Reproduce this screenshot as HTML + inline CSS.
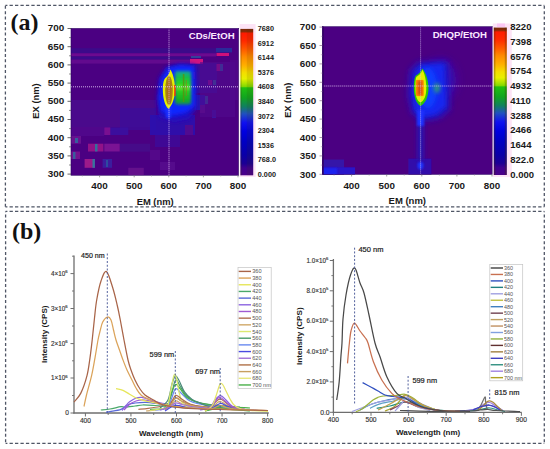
<!DOCTYPE html>
<html><head><meta charset="utf-8"><title>Figure</title>
<style>
html,body{margin:0;padding:0;background:#fff;width:550px;height:449px;overflow:hidden;}
svg{display:block;}
text{font-family:"Liberation Sans",sans-serif;}
.serif{font-family:"Liberation Serif",serif;}
</style></head><body>
<svg width="550" height="449" viewBox="0 0 550 449">
<defs>
<filter id="b1" x="-50%" y="-50%" width="200%" height="200%"><feGaussianBlur stdDeviation="1"/></filter>
<filter id="b15" x="-50%" y="-50%" width="200%" height="200%"><feGaussianBlur stdDeviation="1.5"/></filter>
<filter id="b2" x="-50%" y="-50%" width="200%" height="200%"><feGaussianBlur stdDeviation="2"/></filter>
<filter id="b3" x="-50%" y="-50%" width="200%" height="200%"><feGaussianBlur stdDeviation="3"/></filter>
<filter id="b5" x="-50%" y="-50%" width="200%" height="200%"><feGaussianBlur stdDeviation="5"/></filter>
<filter id="bh" x="-50%" y="-50%" width="200%" height="200%"><feGaussianBlur stdDeviation="0.6"/></filter>
<linearGradient id="cb" x1="0" y1="0" x2="0" y2="1">
<stop offset="0" stop-color="#7a2a08"/>
<stop offset="0.018" stop-color="#8a2a06"/>
<stop offset="0.03" stop-color="#ff1a00"/>
<stop offset="0.08" stop-color="#ff2800"/>
<stop offset="0.14" stop-color="#ff5a00"/>
<stop offset="0.19" stop-color="#ff8a00"/>
<stop offset="0.25" stop-color="#ffb000"/>
<stop offset="0.30" stop-color="#f4de00"/>
<stop offset="0.34" stop-color="#e8f000"/>
<stop offset="0.375" stop-color="#a8e200"/>
<stop offset="0.395" stop-color="#80d800"/>
<stop offset="0.402" stop-color="#20c010"/>
<stop offset="0.47" stop-color="#10a420"/>
<stop offset="0.53" stop-color="#108060"/>
<stop offset="0.58" stop-color="#2050c0"/>
<stop offset="0.64" stop-color="#1010f0"/>
<stop offset="0.70" stop-color="#0000e0"/>
<stop offset="0.77" stop-color="#0000c4"/>
<stop offset="0.86" stop-color="#0a00a8"/>
<stop offset="0.92" stop-color="#1c0094"/>
<stop offset="0.95" stop-color="#400090"/>
<stop offset="1" stop-color="#4a0088"/>
</linearGradient>
<linearGradient id="gG" x1="0" y1="0" x2="0" y2="1">
<stop offset="0" stop-color="#10a0a0"/>
<stop offset="0.2" stop-color="#18c040"/>
<stop offset="0.42" stop-color="#28d820"/>
<stop offset="0.5" stop-color="#70e030"/>
<stop offset="0.58" stop-color="#28d020"/>
<stop offset="0.85" stop-color="#18b020"/>
<stop offset="1" stop-color="#109050"/>
</linearGradient>
<clipPath id="cp1"><rect x="71" y="28.3" width="167.7" height="147"/></clipPath>
<clipPath id="cp2"><rect x="322.3" y="26.6" width="170" height="148"/></clipPath>
</defs>
<rect x="0" y="0" width="550" height="449" fill="#fff"/>

<line x1="5.4" y1="5.3" x2="544.3" y2="5.3" stroke="#4f5666" stroke-width="1.3" stroke-dasharray="3.3,2.15" fill="none" stroke-dashoffset="1.3"/>
<line x1="5.4" y1="206.9" x2="544.3" y2="206.9" stroke="#4f5666" stroke-width="1.3" stroke-dasharray="3.3,2.15" fill="none" stroke-dashoffset="1.3"/>
<line x1="5.4" y1="5.3" x2="5.4" y2="206.9" stroke="#4f5666" stroke-width="1.3" stroke-dasharray="3.0,2.35" fill="none" stroke-dashoffset="4.8"/>
<line x1="544.3" y1="5.3" x2="544.3" y2="206.9" stroke="#4f5666" stroke-width="1.3" stroke-dasharray="3.0,2.35" fill="none" stroke-dashoffset="4.8"/>
<line x1="5.6" y1="211.4" x2="544.3" y2="211.4" stroke="#4f5666" stroke-width="1.3" stroke-dasharray="3.3,2.15" fill="none" stroke-dashoffset="1.5"/>
<line x1="5.6" y1="443.3" x2="544.3" y2="443.3" stroke="#4f5666" stroke-width="1.3" stroke-dasharray="3.3,2.15" fill="none" stroke-dashoffset="1.5"/>
<line x1="5.6" y1="211.4" x2="5.6" y2="443.3" stroke="#4f5666" stroke-width="1.3" stroke-dasharray="3.0,2.35" fill="none" stroke-dashoffset="2.25"/>
<line x1="544.3" y1="211.4" x2="544.3" y2="443.3" stroke="#4f5666" stroke-width="1.3" stroke-dasharray="3.0,2.35" fill="none" stroke-dashoffset="2.25"/>
<text x="10.4" y="30.1" class="serif" font-size="24" font-weight="bold" fill="#111">(a)</text>
<text x="12" y="239.3" class="serif" font-size="24" font-weight="bold" fill="#111">(b)</text>
<g clip-path="url(#cp1)">
<rect x="71" y="28.3" width="167.7" height="147" fill="#4b0082"/>
<rect x="71" y="48.2" width="145" height="5.1" fill="#3c0a8a"/>
<rect x="71" y="53.3" width="145" height="3.1" fill="#6c0a90"/>
<rect x="71" y="56.4" width="119" height="3.2" fill="#3c0a8a"/>
<rect x="71" y="59.6" width="119" height="4" fill="#620a8e"/>
<rect x="193" y="63" width="24" height="30" fill="#3810a0" opacity="0.8"/>
<rect x="216" y="48" width="16" height="4.4" fill="#2a2a9a" opacity="1"/>
<rect x="216.5" y="53" width="12.5" height="3" fill="#d0107a" opacity="1"/>
<rect x="191" y="56" width="10" height="2" fill="#2a50a0" opacity="0.8"/>
<rect x="190" y="59" width="13" height="4.7" fill="#d01480" opacity="1"/>
<rect x="216.5" y="64" width="3.5" height="7" fill="#b01080" opacity="1"/>
<rect x="220" y="64" width="3" height="7" fill="#2a60a0" opacity="1"/>
<rect x="192.5" y="72" width="2.5" height="7" fill="#a01090" opacity="1"/>
<rect x="208" y="80" width="4" height="5" fill="#a01090" opacity="0.9"/>
<rect x="213" y="80" width="3" height="5" fill="#2a70a0" opacity="0.9"/>
<rect x="205" y="96" width="3" height="8" fill="#2a60a0" opacity="0.9"/>
<rect x="195" y="95" width="10" height="15" fill="#2020c0" opacity="0.7"/>
<rect x="200" y="105" width="5" height="8" fill="#6a108c" opacity="0.8"/>
<rect x="212" y="110" width="4" height="8" fill="#3a18a8" opacity="0.8"/>
<rect x="230" y="60" width="8" height="40" fill="#520a8e" opacity="0.6"/>
<rect x="71" y="100" width="85" height="27" fill="#4a0a8c" opacity="1"/>
<rect x="120" y="108" width="36" height="22" fill="#3c0c98" opacity="0.8"/>
<rect x="104.3" y="127.4" width="24" height="7.6" fill="#3a10a0" opacity="0.9"/>
<rect x="104.3" y="127.4" width="6" height="7.6" fill="#8a108e" opacity="0.8"/>
<rect x="71" y="136" width="10" height="7.7" fill="#6a1490" opacity="0.9"/>
<rect x="75" y="138" width="3" height="5" fill="#2a70a0" opacity="0.8"/>
<rect x="88" y="143.7" width="15.4" height="7.8" fill="#a8188a" opacity="0.75"/>
<rect x="95" y="144" width="2.5" height="7.5" fill="#2a78a0" opacity="0.9"/>
<rect x="104.3" y="143.7" width="15.4" height="7.8" fill="#8a1a9a" opacity="0.75"/>
<rect x="71" y="151.5" width="9" height="7.5" fill="#7a1490" opacity="0.9"/>
<rect x="73" y="152" width="2.5" height="7" fill="#2a70a0" opacity="0.8"/>
<rect x="84.6" y="159" width="10.3" height="8.8" fill="#b0208c" opacity="0.8"/>
<rect x="92.5" y="159" width="2.4" height="8.8" fill="#2a80a0" opacity="0.9"/>
<rect x="102.6" y="159" width="9.4" height="8.8" fill="#3a20a0" opacity="0.9"/>
<rect x="106" y="160" width="2" height="7" fill="#2a60a0" opacity="0.7"/>
<rect x="128.3" y="167.8" width="15.5" height="7.5" fill="#6a148e" opacity="0.8"/>
<rect x="71" y="127" width="33" height="9" fill="#520a8e" opacity="0.7"/>
<rect x="120" y="143.7" width="30" height="8" fill="#44108c" opacity="0.7"/>
<rect x="150" y="115" width="45" height="20" fill="#2a10b0" opacity="0.85"/>
<rect x="155" y="135" width="25" height="12" fill="#3a0c9c" opacity="0.7"/>
<rect x="185" y="125" width="8" height="10" fill="#5a0a8a" opacity="0.8"/>
<rect x="150" y="150" width="10" height="10" fill="#560a8c" opacity="0.8"/>
<rect x="160" y="162" width="15" height="8" fill="#5a1090" opacity="0.7"/>
<rect x="200" y="62" width="35" height="55" fill="#500a8e" opacity="0.6"/>
<path d="M159,78 L166,67 L180,64 L195,65 L196,110 L189,119 L174,122 L159,117 L157,100 Z" fill="#2410c0" filter="url(#b2)"/>
<path d="M161,80 L168,68 L180,65 L194,66 L195,106 L186,113 L172,116 L161,111 L159,98 Z" fill="#0a28ff" filter="url(#b2)"/>
<rect x="166" y="106" width="5" height="12" fill="#1a30ff" filter="url(#b1)"/>
<rect x="175" y="71" width="16" height="33.5" rx="2" fill="url(#gG)" filter="url(#b15)"/>
<rect x="182.8" y="74" width="1.6" height="28" fill="#5a9010" opacity="0.8"/>
<rect x="185.8" y="80" width="0.8" height="16" fill="#b06020" opacity="0.7"/>
<path d="M170.4,69.5 C172.6,73 175,80 175,89 C175,98 172,106 168.4,108.8 C165,106 162.8,98 162.8,89 C162.8,82 164.3,78.5 166,77.4 C168,76 169.6,73 170.4,69.5 Z" fill="#e6f000" filter="url(#bh)"/>
<ellipse cx="169" cy="90.5" rx="3.8" ry="14.5" fill="#a88018" filter="url(#bh)"/>
<ellipse cx="169" cy="90" rx="1.6" ry="11" fill="#b05a18" opacity="0.6"/>
<rect x="174.2" y="85" width="1.4" height="11" fill="#ff3000"/>
<line x1="169" y1="28.3" x2="169" y2="175.3" stroke="#f0d8ff" stroke-width="0.9" stroke-dasharray="1,1" opacity="0.9"/>
<line x1="71" y1="86.8" x2="238.7" y2="86.8" stroke="#f0d8ff" stroke-width="0.9" stroke-dasharray="1,1" opacity="0.9"/>
</g>
<rect x="71" y="28.3" width="167.7" height="147" fill="none" stroke="#2a0060" stroke-width="0.6"/>
<text x="234.6" y="39" text-anchor="end" font-size="9.6" font-weight="bold" fill="#fbe8ff">CDs/EtOH</text>
<rect x="239.6" y="24" width="16" height="153" fill="#fde4f6"/>
<rect x="240.4" y="28.9" width="12.8" height="146.4" fill="url(#cb)"/>
<rect x="246.8" y="28.9" width="6.4" height="146.4" fill="#403000" opacity="0.12"/>
<rect x="240.4" y="28.9" width="1.4" height="146.4" fill="#403000" opacity="0.2"/>
<text x="257.8" y="31.1" font-size="7.25" font-weight="bold" fill="#1a1a1a">7680</text>
<text x="257.8" y="45.67" font-size="7.25" font-weight="bold" fill="#1a1a1a">6912</text>
<text x="257.8" y="60.24" font-size="7.25" font-weight="bold" fill="#1a1a1a">6144</text>
<text x="257.8" y="74.81" font-size="7.25" font-weight="bold" fill="#1a1a1a">5376</text>
<text x="257.8" y="89.38" font-size="7.25" font-weight="bold" fill="#1a1a1a">4608</text>
<text x="257.8" y="103.95" font-size="7.25" font-weight="bold" fill="#1a1a1a">3840</text>
<text x="257.8" y="118.52" font-size="7.25" font-weight="bold" fill="#1a1a1a">3072</text>
<text x="257.8" y="133.09" font-size="7.25" font-weight="bold" fill="#1a1a1a">2304</text>
<text x="257.8" y="147.66" font-size="7.25" font-weight="bold" fill="#1a1a1a">1536</text>
<text x="257.8" y="162.23" font-size="7.25" font-weight="bold" fill="#1a1a1a">768.0</text>
<text x="257.8" y="176.8" font-size="7.25" font-weight="bold" fill="#1a1a1a">0.000</text>
<line x1="67.5" y1="28.5" x2="71" y2="28.5" stroke="#444" stroke-width="0.8"/>
<text x="64.3" y="31.4" text-anchor="end" font-size="9.9" font-weight="bold" fill="#1a1a1a">700</text>
<line x1="67.5" y1="46.7" x2="71" y2="46.7" stroke="#444" stroke-width="0.8"/>
<text x="64.3" y="49.6" text-anchor="end" font-size="9.9" font-weight="bold" fill="#1a1a1a">650</text>
<line x1="67.5" y1="64.9" x2="71" y2="64.9" stroke="#444" stroke-width="0.8"/>
<text x="64.3" y="67.8" text-anchor="end" font-size="9.9" font-weight="bold" fill="#1a1a1a">600</text>
<line x1="67.5" y1="83.1" x2="71" y2="83.1" stroke="#444" stroke-width="0.8"/>
<text x="64.3" y="86" text-anchor="end" font-size="9.9" font-weight="bold" fill="#1a1a1a">550</text>
<line x1="67.5" y1="101.3" x2="71" y2="101.3" stroke="#444" stroke-width="0.8"/>
<text x="64.3" y="104.2" text-anchor="end" font-size="9.9" font-weight="bold" fill="#1a1a1a">500</text>
<line x1="67.5" y1="119.5" x2="71" y2="119.5" stroke="#444" stroke-width="0.8"/>
<text x="64.3" y="122.4" text-anchor="end" font-size="9.9" font-weight="bold" fill="#1a1a1a">450</text>
<line x1="67.5" y1="137.7" x2="71" y2="137.7" stroke="#444" stroke-width="0.8"/>
<text x="64.3" y="140.6" text-anchor="end" font-size="9.9" font-weight="bold" fill="#1a1a1a">400</text>
<line x1="67.5" y1="155.9" x2="71" y2="155.9" stroke="#444" stroke-width="0.8"/>
<text x="64.3" y="158.8" text-anchor="end" font-size="9.9" font-weight="bold" fill="#1a1a1a">350</text>
<line x1="67.5" y1="174.1" x2="71" y2="174.1" stroke="#444" stroke-width="0.8"/>
<text x="64.3" y="177" text-anchor="end" font-size="9.9" font-weight="bold" fill="#1a1a1a">300</text>
<line x1="69" y1="37.6" x2="71" y2="37.6" stroke="#444" stroke-width="0.6"/>
<line x1="69" y1="55.8" x2="71" y2="55.8" stroke="#444" stroke-width="0.6"/>
<line x1="69" y1="74" x2="71" y2="74" stroke="#444" stroke-width="0.6"/>
<line x1="69" y1="92.2" x2="71" y2="92.2" stroke="#444" stroke-width="0.6"/>
<line x1="69" y1="110.4" x2="71" y2="110.4" stroke="#444" stroke-width="0.6"/>
<line x1="69" y1="128.6" x2="71" y2="128.6" stroke="#444" stroke-width="0.6"/>
<line x1="69" y1="146.8" x2="71" y2="146.8" stroke="#444" stroke-width="0.6"/>
<line x1="69" y1="165" x2="71" y2="165" stroke="#444" stroke-width="0.6"/>
<line x1="99.6" y1="175.3" x2="99.6" y2="177.3" stroke="#777" stroke-width="0.7"/>
<text x="99.6" y="188.9" text-anchor="middle" font-size="9.9" font-weight="bold" fill="#1a1a1a">400</text>
<line x1="134.2" y1="175.3" x2="134.2" y2="177.3" stroke="#777" stroke-width="0.7"/>
<text x="134.2" y="188.9" text-anchor="middle" font-size="9.9" font-weight="bold" fill="#1a1a1a">500</text>
<line x1="168.8" y1="175.3" x2="168.8" y2="177.3" stroke="#777" stroke-width="0.7"/>
<text x="168.8" y="188.9" text-anchor="middle" font-size="9.9" font-weight="bold" fill="#1a1a1a">600</text>
<line x1="203.4" y1="175.3" x2="203.4" y2="177.3" stroke="#777" stroke-width="0.7"/>
<text x="203.4" y="188.9" text-anchor="middle" font-size="9.9" font-weight="bold" fill="#1a1a1a">700</text>
<line x1="238" y1="175.3" x2="238" y2="177.3" stroke="#777" stroke-width="0.7"/>
<text x="238" y="188.9" text-anchor="middle" font-size="9.9" font-weight="bold" fill="#1a1a1a">800</text>
<line x1="82.3" y1="175.3" x2="82.3" y2="176.5" stroke="#999" stroke-width="0.6"/>
<line x1="116.9" y1="175.3" x2="116.9" y2="176.5" stroke="#999" stroke-width="0.6"/>
<line x1="151.5" y1="175.3" x2="151.5" y2="176.5" stroke="#999" stroke-width="0.6"/>
<line x1="186.1" y1="175.3" x2="186.1" y2="176.5" stroke="#999" stroke-width="0.6"/>
<line x1="220.7" y1="175.3" x2="220.7" y2="176.5" stroke="#999" stroke-width="0.6"/>
<text x="155.2" y="204.6" text-anchor="middle" font-size="9.4" font-weight="bold" fill="#1a1a1a">EM (nm)</text>
<text transform="translate(39,101) rotate(-90)" text-anchor="middle" font-size="9.4" font-weight="bold" fill="#1a1a1a">EX (nm)</text>
<g clip-path="url(#cp2)">
<rect x="322.3" y="26.6" width="170" height="147.9" fill="#4b0082"/>
<rect x="320" y="159.6" width="24" height="16" fill="#3612a8" filter="url(#bh)"/>
<rect x="320" y="167.3" width="35" height="8" fill="#2a14c8" filter="url(#bh)"/>
<rect x="320" y="168" width="17" height="7" fill="#1a20f0" filter="url(#b1)"/>
<rect x="408.4" y="158.6" width="23" height="17" fill="#3210aa" filter="url(#bh)"/>
<ellipse cx="420.5" cy="165.5" rx="3" ry="4" fill="#1a30ff" filter="url(#b1)"/>
<rect x="417" y="110" width="7" height="50" fill="#2c12b0" filter="url(#b2)"/>
<ellipse cx="440" cy="80" rx="16" ry="20" fill="#3a0cb0" filter="url(#b5)"/>
<path d="M410,70 L418,62 L448,61 L450,110 L440,118 L425,121 L412,114 L408,95 Z" fill="#2412c4" filter="url(#b3)"/>
<path d="M416,72 L422,65 L444,64 L446,106 L436,114 L424,117 L415,110 L413,92 Z" fill="#1228f0" filter="url(#b2)"/>
<ellipse cx="428" cy="88" rx="9" ry="20" fill="#0a40ff" filter="url(#b2)"/>
<rect x="417" y="110" width="7" height="16" fill="#1a30ff" filter="url(#b1)"/>
<ellipse cx="437" cy="88" rx="3" ry="5" fill="#30a070" filter="url(#b2)"/>
<path d="M422.3,68.5 C425.5,72 428.5,80 428.5,88 C428.5,97 425,104 420.5,106 C416.5,104 413.8,97 413.8,88 C413.8,82 414.6,77 416,75.5 C418.5,74 421,72 422.3,68.5 Z" fill="#30c800" filter="url(#bh)"/>
<path d="M422.3,69.8 C424.5,73 426.3,80 426.3,88 C426.3,96 424,101 420.5,102.5 C417,101 415.4,96 415.4,88 C415.4,81 415.8,77.5 416.6,76.7 C419,75.5 421.3,73.5 422.3,69.8 Z" fill="#e4f000" filter="url(#bh)"/>
<rect x="415.9" y="80" width="7.8" height="15.9" rx="1" fill="#ff8800" filter="url(#bh)"/>
<rect x="418" y="81" width="4" height="14" fill="#d84810" filter="url(#b1)"/>
<line x1="420.6" y1="26.6" x2="420.6" y2="174.5" stroke="#e0c8f8" stroke-width="0.9" stroke-dasharray="1,1" opacity="0.75"/>
<line x1="322.3" y1="86" x2="492.3" y2="86" stroke="#f0d8ff" stroke-width="0.9" stroke-dasharray="1,1" opacity="0.9"/>
</g>
<rect x="322.3" y="26.6" width="170" height="148" fill="none" stroke="#2a0060" stroke-width="0.6"/>
<line x1="323" y1="26.6" x2="323" y2="174.5" stroke="#300060" stroke-width="1.4"/>
<text x="487" y="37.8" text-anchor="end" font-size="9.6" font-weight="bold" fill="#fbe8ff">DHQP/EtOH</text>
<rect x="492.8" y="23.5" width="19" height="153.5" fill="#fde4f6"/>
<rect x="493.8" y="27.6" width="13" height="147.4" fill="url(#cb)"/>
<rect x="493.8" y="27.6" width="1.6" height="147.4" fill="#403000" opacity="0.3"/>
<rect x="504.8" y="27.6" width="2" height="147.4" fill="#403000" opacity="0.3"/>
<rect x="497" y="23.5" width="8" height="3.5" fill="#fbc8f4"/>
<text x="510.3" y="30" font-size="9.5" font-weight="bold" fill="#1a1a1a">8220</text>
<text x="510.3" y="44.77" font-size="9.5" font-weight="bold" fill="#1a1a1a">7398</text>
<text x="510.3" y="59.54" font-size="9.5" font-weight="bold" fill="#1a1a1a">6576</text>
<text x="510.3" y="74.31" font-size="9.5" font-weight="bold" fill="#1a1a1a">5754</text>
<text x="510.3" y="89.08" font-size="9.5" font-weight="bold" fill="#1a1a1a">4932</text>
<text x="510.3" y="103.85" font-size="9.5" font-weight="bold" fill="#1a1a1a">4110</text>
<text x="510.3" y="118.62" font-size="9.5" font-weight="bold" fill="#1a1a1a">3288</text>
<text x="510.3" y="133.39" font-size="9.5" font-weight="bold" fill="#1a1a1a">2466</text>
<text x="510.3" y="148.16" font-size="9.5" font-weight="bold" fill="#1a1a1a">1644</text>
<text x="510.3" y="162.93" font-size="9.5" font-weight="bold" fill="#1a1a1a">822.0</text>
<text x="510.3" y="177.7" font-size="9.5" font-weight="bold" fill="#1a1a1a">0.000</text>
<line x1="319.5" y1="27.1" x2="322.3" y2="27.1" stroke="#8a6a8a" stroke-width="0.7"/>
<text x="316.2" y="30.4" text-anchor="end" font-size="9.8" font-weight="bold" fill="#1a1a1a">700</text>
<line x1="319.5" y1="45.5" x2="322.3" y2="45.5" stroke="#8a6a8a" stroke-width="0.7"/>
<text x="316.2" y="48.8" text-anchor="end" font-size="9.8" font-weight="bold" fill="#1a1a1a">650</text>
<line x1="319.5" y1="63.9" x2="322.3" y2="63.9" stroke="#8a6a8a" stroke-width="0.7"/>
<text x="316.2" y="67.2" text-anchor="end" font-size="9.8" font-weight="bold" fill="#1a1a1a">600</text>
<line x1="319.5" y1="82.3" x2="322.3" y2="82.3" stroke="#8a6a8a" stroke-width="0.7"/>
<text x="316.2" y="85.6" text-anchor="end" font-size="9.8" font-weight="bold" fill="#1a1a1a">550</text>
<line x1="319.5" y1="100.7" x2="322.3" y2="100.7" stroke="#8a6a8a" stroke-width="0.7"/>
<text x="316.2" y="104" text-anchor="end" font-size="9.8" font-weight="bold" fill="#1a1a1a">500</text>
<line x1="319.5" y1="119.1" x2="322.3" y2="119.1" stroke="#8a6a8a" stroke-width="0.7"/>
<text x="316.2" y="122.4" text-anchor="end" font-size="9.8" font-weight="bold" fill="#1a1a1a">450</text>
<line x1="319.5" y1="137.5" x2="322.3" y2="137.5" stroke="#8a6a8a" stroke-width="0.7"/>
<text x="316.2" y="140.8" text-anchor="end" font-size="9.8" font-weight="bold" fill="#1a1a1a">400</text>
<line x1="319.5" y1="155.9" x2="322.3" y2="155.9" stroke="#8a6a8a" stroke-width="0.7"/>
<text x="316.2" y="159.2" text-anchor="end" font-size="9.8" font-weight="bold" fill="#1a1a1a">350</text>
<line x1="319.5" y1="174.3" x2="322.3" y2="174.3" stroke="#8a6a8a" stroke-width="0.7"/>
<text x="316.2" y="177.6" text-anchor="end" font-size="9.8" font-weight="bold" fill="#1a1a1a">300</text>
<line x1="320.8" y1="36.3" x2="322.3" y2="36.3" stroke="#b09ab0" stroke-width="0.6"/>
<line x1="320.8" y1="54.7" x2="322.3" y2="54.7" stroke="#b09ab0" stroke-width="0.6"/>
<line x1="320.8" y1="73.1" x2="322.3" y2="73.1" stroke="#b09ab0" stroke-width="0.6"/>
<line x1="320.8" y1="91.5" x2="322.3" y2="91.5" stroke="#b09ab0" stroke-width="0.6"/>
<line x1="320.8" y1="109.9" x2="322.3" y2="109.9" stroke="#b09ab0" stroke-width="0.6"/>
<line x1="320.8" y1="128.3" x2="322.3" y2="128.3" stroke="#b09ab0" stroke-width="0.6"/>
<line x1="320.8" y1="146.7" x2="322.3" y2="146.7" stroke="#b09ab0" stroke-width="0.6"/>
<line x1="320.8" y1="165.1" x2="322.3" y2="165.1" stroke="#b09ab0" stroke-width="0.6"/>
<line x1="351.6" y1="174.5" x2="351.6" y2="176.5" stroke="#777" stroke-width="0.7"/>
<text x="351.6" y="188.9" text-anchor="middle" font-size="9.8" font-weight="bold" fill="#1a1a1a">400</text>
<line x1="386.7" y1="174.5" x2="386.7" y2="176.5" stroke="#777" stroke-width="0.7"/>
<text x="386.7" y="188.9" text-anchor="middle" font-size="9.8" font-weight="bold" fill="#1a1a1a">500</text>
<line x1="421.8" y1="174.5" x2="421.8" y2="176.5" stroke="#777" stroke-width="0.7"/>
<text x="421.8" y="188.9" text-anchor="middle" font-size="9.8" font-weight="bold" fill="#1a1a1a">600</text>
<line x1="456.9" y1="174.5" x2="456.9" y2="176.5" stroke="#777" stroke-width="0.7"/>
<text x="456.9" y="188.9" text-anchor="middle" font-size="9.8" font-weight="bold" fill="#1a1a1a">700</text>
<line x1="492" y1="174.5" x2="492" y2="176.5" stroke="#777" stroke-width="0.7"/>
<text x="492" y="188.9" text-anchor="middle" font-size="9.8" font-weight="bold" fill="#1a1a1a">800</text>
<line x1="334.05" y1="174.5" x2="334.05" y2="175.7" stroke="#999" stroke-width="0.6"/>
<line x1="369.15" y1="174.5" x2="369.15" y2="175.7" stroke="#999" stroke-width="0.6"/>
<line x1="404.25" y1="174.5" x2="404.25" y2="175.7" stroke="#999" stroke-width="0.6"/>
<line x1="439.35" y1="174.5" x2="439.35" y2="175.7" stroke="#999" stroke-width="0.6"/>
<line x1="474.45" y1="174.5" x2="474.45" y2="175.7" stroke="#999" stroke-width="0.6"/>
<text x="407.3" y="204" text-anchor="middle" font-size="9.5" font-weight="bold" fill="#1a1a1a">EM (nm)</text>
<text transform="translate(291.2,100.3) rotate(-90)" text-anchor="middle" font-size="9.3" font-weight="bold" fill="#1a1a1a">EX (nm)</text>
<line x1="74" y1="255.5" x2="74" y2="413.6" stroke="#6e6e6e" stroke-width="1.3"/>
<line x1="73.4" y1="413" x2="268.8" y2="413" stroke="#6e6e6e" stroke-width="1.3"/>
<line x1="70.5" y1="413" x2="74" y2="413" stroke="#6e6e6e" stroke-width="1"/>
<line x1="70.5" y1="378" x2="74" y2="378" stroke="#6e6e6e" stroke-width="1"/>
<line x1="70.5" y1="343.6" x2="74" y2="343.6" stroke="#6e6e6e" stroke-width="1"/>
<line x1="70.5" y1="308.5" x2="74" y2="308.5" stroke="#6e6e6e" stroke-width="1"/>
<line x1="70.5" y1="273.6" x2="74" y2="273.6" stroke="#6e6e6e" stroke-width="1"/>
<line x1="72" y1="395.5" x2="74" y2="395.5" stroke="#6e6e6e" stroke-width="0.9"/>
<line x1="72" y1="360.8" x2="74" y2="360.8" stroke="#6e6e6e" stroke-width="0.9"/>
<line x1="72" y1="326" x2="74" y2="326" stroke="#6e6e6e" stroke-width="0.9"/>
<line x1="72" y1="291" x2="74" y2="291" stroke="#6e6e6e" stroke-width="0.9"/>
<line x1="72" y1="256.2" x2="74" y2="256.2" stroke="#6e6e6e" stroke-width="0.9"/>
<text x="69" y="415.3" text-anchor="end" font-size="6.6" fill="#333" stroke="#333" stroke-width="0.15">0</text>
<text x="67.6" y="380.2" text-anchor="end" font-size="6.3" fill="#333" stroke="#333" stroke-width="0.15">1×10<tspan font-size="4.2" dy="-2.6">6</tspan></text>
<text x="67.6" y="345.8" text-anchor="end" font-size="6.3" fill="#333" stroke="#333" stroke-width="0.15">2×10<tspan font-size="4.2" dy="-2.6">6</tspan></text>
<text x="67.6" y="310.7" text-anchor="end" font-size="6.3" fill="#333" stroke="#333" stroke-width="0.15">3×10<tspan font-size="4.2" dy="-2.6">6</tspan></text>
<text x="67.6" y="275.8" text-anchor="end" font-size="6.3" fill="#333" stroke="#333" stroke-width="0.15">4×10<tspan font-size="4.2" dy="-2.6">6</tspan></text>
<line x1="85.4" y1="413" x2="85.4" y2="416.5" stroke="#6e6e6e" stroke-width="1"/>
<text x="85.4" y="423.4" text-anchor="middle" font-size="6.6" fill="#333" stroke="#333" stroke-width="0.15">400</text>
<line x1="130.95" y1="413" x2="130.95" y2="416.5" stroke="#6e6e6e" stroke-width="1"/>
<text x="130.95" y="423.4" text-anchor="middle" font-size="6.6" fill="#333" stroke="#333" stroke-width="0.15">500</text>
<line x1="176.5" y1="413" x2="176.5" y2="416.5" stroke="#6e6e6e" stroke-width="1"/>
<text x="176.5" y="423.4" text-anchor="middle" font-size="6.6" fill="#333" stroke="#333" stroke-width="0.15">600</text>
<line x1="222.05" y1="413" x2="222.05" y2="416.5" stroke="#6e6e6e" stroke-width="1"/>
<text x="222.05" y="423.4" text-anchor="middle" font-size="6.6" fill="#333" stroke="#333" stroke-width="0.15">700</text>
<line x1="267.6" y1="413" x2="267.6" y2="416.5" stroke="#6e6e6e" stroke-width="1"/>
<text x="267.6" y="423.4" text-anchor="middle" font-size="6.6" fill="#333" stroke="#333" stroke-width="0.15">800</text>
<line x1="108.18" y1="413" x2="108.18" y2="415" stroke="#6e6e6e" stroke-width="0.9"/>
<line x1="153.73" y1="413" x2="153.73" y2="415" stroke="#6e6e6e" stroke-width="0.9"/>
<line x1="199.28" y1="413" x2="199.28" y2="415" stroke="#6e6e6e" stroke-width="0.9"/>
<line x1="244.83" y1="413" x2="244.83" y2="415" stroke="#6e6e6e" stroke-width="0.9"/>
<text x="171" y="435.9" text-anchor="middle" font-size="8" font-weight="bold" fill="#1a1a1a">Wavelength (nm)</text>
<text transform="translate(47.3,334.3) rotate(-90)" text-anchor="middle" font-size="8.1" font-weight="bold" fill="#1a1a1a">Intensity (CPS)</text>
<path d="M100.8,410C102.33,409.83 106.63,409.55 110,409C113.37,408.45 118.5,407 121,406.7C123.5,406.4 122.67,407.32 125,407.2C127.33,407.08 132.05,406.37 135,406C137.95,405.63 139.37,405.08 142.7,405C146.03,404.92 150.45,405.25 155,405.5C159.55,405.75 162.5,406 170,406.5C177.5,407 190,408 200,408.5C210,409 225,409.33 230,409.5" fill="none" stroke="#4aa86a" stroke-width="1.25" stroke-linejoin="round"/>
<path d="M106,412.3C106.67,412.18 107.5,412.08 110,411.6C112.5,411.12 117.92,410.58 121,409.4C124.08,408.22 126.17,405.57 128.5,404.5C130.83,403.43 132.08,403.35 135,403C137.92,402.65 142.53,402.33 146,402.4C149.47,402.47 152.72,402.97 155.8,403.4C158.88,403.83 160.47,404.32 164.5,405C168.53,405.68 172.42,406.83 180,407.5C187.58,408.17 201.67,408.67 210,409C218.33,409.33 226.67,409.42 230,409.5" fill="none" stroke="#5a6ad8" stroke-width="1.25" stroke-linejoin="round"/>
<path d="M122,410.5C122.67,409.67 124.73,406.95 126,405.5C127.27,404.05 127.9,403.05 129.6,401.8C131.3,400.55 134.2,398.73 136.2,398C138.2,397.27 139.6,397.23 141.6,397.4C143.6,397.57 146.02,398.35 148.2,399C150.38,399.65 152.35,400.57 154.7,401.3C157.05,402.03 159.75,402.87 162.3,403.4C164.85,403.93 166.22,403.98 170,404.5C173.78,405.02 178.33,406 185,406.5C191.67,407 205.83,407.33 210,407.5" fill="none" stroke="#8c64e0" stroke-width="1.25" stroke-linejoin="round"/>
<path d="M124,410C125,409 128,405.5 130,404C132,402.5 134,401.67 136,401C138,400.33 139.83,400.03 142,400C144.17,399.97 146.67,400.38 149,400.8C151.33,401.22 153.17,401.8 156,402.5C158.83,403.2 161.17,404.17 166,405C170.83,405.83 177.67,407 185,407.5C192.33,408 205.83,407.92 210,408" fill="none" stroke="#a05ad2" stroke-width="1.25" stroke-linejoin="round"/>
<path d="M138.4,409.4C140.03,409.23 144.6,408.88 148.2,408.4C151.8,407.92 156.87,407.23 160,406.5C163.13,405.77 165,404.92 167,404C169,403.08 170.5,402 172,401C173.5,400 174.5,398.08 176,398C177.5,397.92 178.67,399.42 181,400.5C183.33,401.58 185.17,403.42 190,404.5C194.83,405.58 201.67,406.33 210,407C218.33,407.67 235,408.25 240,408.5" fill="none" stroke="#b07050" stroke-width="1.25" stroke-linejoin="round"/>
<path d="M146,411C147.5,410.83 151.83,410.5 155,410C158.17,409.5 162.33,408.83 165,408C167.67,407.17 169.17,406.17 171,405C172.83,403.83 174.17,401.25 176,401C177.83,400.75 178.83,402.58 182,403.5C185.17,404.42 187.83,405.67 195,406.5C202.17,407.33 220,408.17 225,408.5" fill="none" stroke="#d0a868" stroke-width="1.25" stroke-linejoin="round"/>
<path d="M116,388.7C117.17,388.98 120.73,389.48 123,390.4C125.27,391.32 127.4,392.93 129.6,394.2C131.8,395.47 134.02,397 136.2,398C138.38,399 140.4,399.53 142.7,400.2C145,400.87 147.45,401.45 150,402C152.55,402.55 155.17,403 158,403.5C160.83,404 163.67,404.5 167,405C170.33,405.5 172.5,406 178,406.5C183.5,407 196.33,407.75 200,408" fill="none" stroke="#e6e65a" stroke-width="1.25" stroke-linejoin="round"/>
<path d="M150,409.5C152.5,409.25 161.5,410.25 165,408C168.5,405.75 169.25,400.63 171,396C172.75,391.37 174,381.87 175.5,380.2C177,378.53 178.25,383.45 180,386C181.75,388.55 183.5,392.92 186,395.5C188.5,398.08 191,400 195,401.5C199,403 202.5,403.58 210,404.5C217.5,405.42 235,406.58 240,407" fill="none" stroke="#4a9a6a" stroke-width="1.25" stroke-linejoin="round"/>
<path d="M155,410C156.83,409.75 163.33,410.17 166,408.5C168.67,406.83 169.42,403.28 171,400C172.58,396.72 173.83,389.97 175.5,388.8C177.17,387.63 178.58,390.97 181,393C183.42,395.03 186,399 190,401C194,403 198.33,403.92 205,405C211.67,406.08 225.83,407.08 230,407.5" fill="none" stroke="#6a8af0" stroke-width="1.25" stroke-linejoin="round"/>
<path d="M152,409.5C154.33,409.17 162.83,410.08 166,407.5C169.17,404.92 169.42,397.83 171,394C172.58,390.17 174,385.42 175.5,384.5C177,383.58 178.08,386.33 180,388.5C181.92,390.67 183.67,395.08 187,397.5C190.33,399.92 194.5,401.58 200,403C205.5,404.42 211.67,405.17 220,406C228.33,406.83 245,407.67 250,408" fill="none" stroke="#4ab04a" stroke-width="1.25" stroke-linejoin="round"/>
<path d="M160,408C161.33,406.67 166,404 168,400C170,396 170.78,388 172,384C173.22,380 174.13,376.58 175.3,376C176.47,375.42 177.47,377.87 179,380.5C180.53,383.13 182.37,388.68 184.5,391.8C186.63,394.92 189.22,397.33 191.8,399.2C194.38,401.07 197.35,401.88 200,403C202.65,404.12 204.37,405.15 207.7,405.9C211.03,406.65 217.95,407.23 220,407.5" fill="none" stroke="#4a8a7a" stroke-width="1.25" stroke-linejoin="round"/>
<path d="M150,410.5C151.67,410.25 157.12,409.67 160,409C162.88,408.33 165.55,409.33 167.3,406.5C169.05,403.67 169.38,397.2 170.5,392C171.62,386.8 173,377.63 174,375.3C175,372.97 175.67,375.22 176.5,378C177.33,380.78 177.92,387.67 179,392C180.08,396.33 181.17,401.25 183,404C184.83,406.75 188.83,407.75 190,408.5" fill="none" stroke="#dce870" stroke-width="1.25" stroke-linejoin="round"/>
<path d="M165,409C165.83,408.33 168.25,407.25 170,405C171.75,402.75 173.67,396.58 175.5,395.5C177.33,394.42 178.58,397.08 181,398.5C183.42,399.92 186,402.5 190,404C194,405.5 198.33,406.67 205,407.5C211.67,408.33 225.83,408.75 230,409" fill="none" stroke="#b07048" stroke-width="1.25" stroke-linejoin="round"/>
<path d="M165,410C166,409.17 169.25,407 171,405C172.75,403 173.67,398.58 175.5,398C177.33,397.42 179.25,400.25 182,401.5C184.75,402.75 187.33,404.42 192,405.5C196.67,406.58 207,407.58 210,408" fill="none" stroke="#c8a060" stroke-width="1.25" stroke-linejoin="round"/>
<path d="M160,410C161.67,409.42 167.42,407.7 170,406.5C172.58,405.3 173.5,403.13 175.5,402.8C177.5,402.47 178.75,403.8 182,404.5C185.25,405.2 189.5,406.33 195,407C200.5,407.67 211.67,408.25 215,408.5" fill="none" stroke="#a070d8" stroke-width="1.25" stroke-linejoin="round"/>
<path d="M165,411C166.75,410.08 171.33,406 175.5,405.5C179.67,405 183.42,407.42 190,408C196.58,408.58 210.83,408.83 215,409" fill="none" stroke="#4a4ae0" stroke-width="1.25" stroke-linejoin="round"/>
<path d="M200,410C201.67,409.58 207.5,409.17 210,407.5C212.5,405.83 213.25,401.97 215,400C216.75,398.03 218.67,395.7 220.5,395.7C222.33,395.7 224.08,398.28 226,400C227.92,401.72 229.67,404.5 232,406C234.33,407.5 235.33,408.25 240,409C244.67,409.75 256.67,410.25 260,410.5" fill="none" stroke="#8c64e0" stroke-width="1.25" stroke-linejoin="round"/>
<path d="M205,410C206.17,409.33 210.17,407.42 212,406C213.83,404.58 214.58,402.67 216,401.5C217.42,400.33 219,398.92 220.5,399C222,399.08 223.08,400.67 225,402C226.92,403.33 228.67,405.75 232,407C235.33,408.25 242.83,409.08 245,409.5" fill="none" stroke="#b07050" stroke-width="1.25" stroke-linejoin="round"/>
<path d="M205,410.5C206.33,409.92 211,408.25 213,407C215,405.75 215.75,403.92 217,403C218.25,402.08 219.17,401.33 220.5,401.5C221.83,401.67 223.08,402.92 225,404C226.92,405.08 228.67,407 232,408C235.33,409 242.83,409.67 245,410" fill="none" stroke="#d0a868" stroke-width="1.25" stroke-linejoin="round"/>
<path d="M205,410C206.33,409.17 211,406.83 213,405C215,403.17 215.75,400.25 217,399C218.25,397.75 219.17,397.17 220.5,397.5C221.83,397.83 223.08,399.5 225,401C226.92,402.5 228.67,405.08 232,406.5C235.33,407.92 242.83,409 245,409.5" fill="none" stroke="#a05ad2" stroke-width="1.25" stroke-linejoin="round"/>
<path d="M207,410.5C208.17,409.92 211.75,408.17 214,407C216.25,405.83 218.5,403.75 220.5,403.5C222.5,403.25 223.58,404.58 226,405.5C228.42,406.42 231,408.17 235,409C239,409.83 247.5,410.25 250,410.5" fill="none" stroke="#4a4ae0" stroke-width="1.25" stroke-linejoin="round"/>
<path d="M205,411C206.5,410.5 211.42,408.92 214,408C216.58,407.08 218.33,405.58 220.5,405.5C222.67,405.42 223.75,406.75 227,407.5C230.25,408.25 237.83,409.58 240,410" fill="none" stroke="#c8a060" stroke-width="1.25" stroke-linejoin="round"/>
<path d="M205,411C206.5,410.67 211.42,409.58 214,409C216.58,408.42 217.83,407.42 220.5,407.5C223.17,407.58 225.08,408.92 230,409.5C234.92,410.08 246.67,410.75 250,411" fill="none" stroke="#4ab04a" stroke-width="1.25" stroke-linejoin="round"/>
<path d="M205,411C206.17,410.17 210.17,408.5 212,406C213.83,403.5 214.83,399.25 216,396C217.17,392.75 218.2,388.6 219,386.5C219.8,384.4 220.13,383.65 220.8,383.4C221.47,383.15 222.13,383.73 223,385C223.87,386.27 224.83,388.67 226,391C227.17,393.33 228.67,396.67 230,399C231.33,401.33 232.33,403.42 234,405C235.67,406.58 237.33,407.62 240,408.5C242.67,409.38 245.33,409.83 250,410.3C254.67,410.77 265,411.13 268,411.3" fill="none" stroke="#e4e468" stroke-width="1.25" stroke-linejoin="round"/>
<path d="M84,406.5C84.42,404.58 85.23,400.15 86.5,395C87.77,389.85 90.18,381.8 91.6,375.6C93.02,369.4 93.93,363.73 95,357.8C96.07,351.87 97.17,344.4 98,340C98.83,335.6 99.22,334.4 100,331.4C100.78,328.4 101.45,324.4 102.7,322C103.95,319.6 106.12,317.33 107.5,317C108.88,316.67 110,317.83 111,320C112,322.17 112.67,326.67 113.5,330C114.33,333.33 115,336.67 116,340C117,343.33 118.33,346.67 119.5,350C120.67,353.33 121.75,356.67 123,360C124.25,363.33 125.5,366.67 127,370C128.5,373.33 130.5,377 132,380C133.5,383 134.5,385.5 136,388C137.5,390.5 138.67,393 141,395C143.33,397 146.83,398.5 150,400C153.17,401.5 155.83,402.87 160,404C164.17,405.13 168.33,406.05 175,406.8C181.67,407.55 184.5,407.88 200,408.5C215.5,409.12 256.67,410.17 268,410.5" fill="none" stroke="#dba35a" stroke-width="1.25" stroke-linejoin="round"/>
<path d="M74,402C75.12,400.57 78.53,397.8 80.7,393.4C82.87,389 85.45,381.53 87,375.6C88.55,369.67 89.13,363.73 90,357.8C90.87,351.87 91.45,346.63 92.2,340C92.95,333.37 93.75,324.67 94.5,318C95.25,311.33 95.62,306.17 96.7,300C97.78,293.83 99.37,285.73 101,281C102.63,276.27 104.53,270.43 106.5,271.6C108.47,272.77 110.98,282.27 112.8,288C114.62,293.73 116.15,300.67 117.4,306C118.65,311.33 119.2,314.33 120.3,320C121.4,325.67 122.72,333.33 124,340C125.28,346.67 126.83,355 128,360C129.17,365 129.83,366.67 131,370C132.17,373.33 133.5,376.83 135,380C136.5,383.17 138.33,386.5 140,389C141.67,391.5 142.75,393.17 145,395C147.25,396.83 150.67,398.42 153.5,400C156.33,401.58 158.42,403.33 162,404.5C165.58,405.67 168.67,406.25 175,407C181.33,407.75 184.5,408.42 200,409C215.5,409.58 256.67,410.25 268,410.5" fill="none" stroke="#a86448" stroke-width="1.25" stroke-linejoin="round"/>
<line x1="107.3" y1="253.5" x2="107.3" y2="413" stroke="#4a5898" stroke-width="0.95" stroke-dasharray="2,1.75"/>
<line x1="175.3" y1="351" x2="175.3" y2="413" stroke="#4a5898" stroke-width="0.95" stroke-dasharray="2,1.75"/>
<line x1="220.2" y1="368" x2="220.2" y2="413" stroke="#4a5898" stroke-width="0.95" stroke-dasharray="2,1.75"/>
<text x="81" y="258.2" font-size="7.1" fill="#222" stroke="#222" stroke-width="0.2">450 nm</text>
<text x="149.6" y="356.7" font-size="7.4" fill="#222" stroke="#222" stroke-width="0.2">599 nm</text>
<text x="195.2" y="374.3" font-size="7.45" fill="#222" stroke="#222" stroke-width="0.2">697 nm</text>
<rect x="238" y="267.4" width="33.2" height="121" fill="#fff" stroke="#c4c4c4" stroke-width="0.7"/>
<line x1="238.7" y1="271.4" x2="251" y2="271.4" stroke="#a86448" stroke-width="1.4"/>
<text x="252.2" y="273.4" font-size="5.6" fill="#555">360</text>
<line x1="238.7" y1="278.08" x2="251" y2="278.08" stroke="#dba35a" stroke-width="1.4"/>
<text x="252.2" y="280.08" font-size="5.6" fill="#555">380</text>
<line x1="238.7" y1="284.76" x2="251" y2="284.76" stroke="#e6e65a" stroke-width="1.4"/>
<text x="252.2" y="286.76" font-size="5.6" fill="#555">400</text>
<line x1="238.7" y1="291.44" x2="251" y2="291.44" stroke="#4aa86a" stroke-width="1.4"/>
<text x="252.2" y="293.44" font-size="5.6" fill="#555">420</text>
<line x1="238.7" y1="298.12" x2="251" y2="298.12" stroke="#5a6ad8" stroke-width="1.4"/>
<text x="252.2" y="300.12" font-size="5.6" fill="#555">440</text>
<line x1="238.7" y1="304.8" x2="251" y2="304.8" stroke="#8c64e0" stroke-width="1.4"/>
<text x="252.2" y="306.8" font-size="5.6" fill="#555">460</text>
<line x1="238.7" y1="311.48" x2="251" y2="311.48" stroke="#a05ad2" stroke-width="1.4"/>
<text x="252.2" y="313.48" font-size="5.6" fill="#555">480</text>
<line x1="238.7" y1="318.16" x2="251" y2="318.16" stroke="#b07050" stroke-width="1.4"/>
<text x="252.2" y="320.16" font-size="5.6" fill="#555">500</text>
<line x1="238.7" y1="324.84" x2="251" y2="324.84" stroke="#d0a868" stroke-width="1.4"/>
<text x="252.2" y="326.84" font-size="5.6" fill="#555">520</text>
<line x1="238.7" y1="331.52" x2="251" y2="331.52" stroke="#dce870" stroke-width="1.4"/>
<text x="252.2" y="333.52" font-size="5.6" fill="#555">540</text>
<line x1="238.7" y1="338.2" x2="251" y2="338.2" stroke="#4a9a6a" stroke-width="1.4"/>
<text x="252.2" y="340.2" font-size="5.6" fill="#555">560</text>
<line x1="238.7" y1="344.88" x2="251" y2="344.88" stroke="#6a8af0" stroke-width="1.4"/>
<text x="252.2" y="346.88" font-size="5.6" fill="#555">580</text>
<line x1="238.7" y1="351.56" x2="251" y2="351.56" stroke="#4a4ae0" stroke-width="1.4"/>
<text x="252.2" y="353.56" font-size="5.6" fill="#555">600</text>
<line x1="238.7" y1="358.24" x2="251" y2="358.24" stroke="#a070d8" stroke-width="1.4"/>
<text x="252.2" y="360.24" font-size="5.6" fill="#555">620</text>
<line x1="238.7" y1="364.92" x2="251" y2="364.92" stroke="#b07048" stroke-width="1.4"/>
<text x="252.2" y="366.92" font-size="5.6" fill="#555">640</text>
<line x1="238.7" y1="371.6" x2="251" y2="371.6" stroke="#c8a060" stroke-width="1.4"/>
<text x="252.2" y="373.6" font-size="5.6" fill="#555">660</text>
<line x1="238.7" y1="378.28" x2="251" y2="378.28" stroke="#e8e880" stroke-width="1.4"/>
<text x="252.2" y="380.28" font-size="5.6" fill="#555">680</text>
<line x1="238.7" y1="384.96" x2="251" y2="384.96" stroke="#4ab04a" stroke-width="1.4"/>
<text x="252.2" y="386.96" font-size="5.6" fill="#555">700 nm</text>
<line x1="333.4" y1="259" x2="333.4" y2="412.9" stroke="#6e6e6e" stroke-width="1.3"/>
<line x1="332.8" y1="412.3" x2="521.6" y2="412.3" stroke="#6e6e6e" stroke-width="1.3"/>
<line x1="329.8" y1="412.3" x2="333.4" y2="412.3" stroke="#6e6e6e" stroke-width="1"/>
<text x="329.6" y="414.6" text-anchor="end" font-size="6.8" fill="#333" stroke="#333" stroke-width="0.15">0.0</text>
<line x1="329.8" y1="381.9" x2="333.4" y2="381.9" stroke="#6e6e6e" stroke-width="1"/>
<text x="328.4" y="384.1" text-anchor="end" font-size="6.3" fill="#333" stroke="#333" stroke-width="0.15">2.0×10<tspan font-size="4.2" dy="-2.6">5</tspan></text>
<line x1="329.8" y1="351.6" x2="333.4" y2="351.6" stroke="#6e6e6e" stroke-width="1"/>
<text x="328.4" y="353.8" text-anchor="end" font-size="6.3" fill="#333" stroke="#333" stroke-width="0.15">4.0×10<tspan font-size="4.2" dy="-2.6">5</tspan></text>
<line x1="329.8" y1="321.2" x2="333.4" y2="321.2" stroke="#6e6e6e" stroke-width="1"/>
<text x="328.4" y="323.4" text-anchor="end" font-size="6.3" fill="#333" stroke="#333" stroke-width="0.15">6.0×10<tspan font-size="4.2" dy="-2.6">5</tspan></text>
<line x1="329.8" y1="290.8" x2="333.4" y2="290.8" stroke="#6e6e6e" stroke-width="1"/>
<text x="328.4" y="293" text-anchor="end" font-size="6.3" fill="#333" stroke="#333" stroke-width="0.15">8.0×10<tspan font-size="4.2" dy="-2.6">5</tspan></text>
<line x1="329.8" y1="260.5" x2="333.4" y2="260.5" stroke="#6e6e6e" stroke-width="1"/>
<text x="328.4" y="262.7" text-anchor="end" font-size="6.3" fill="#333" stroke="#333" stroke-width="0.15">1.0×10<tspan font-size="4.2" dy="-2.6">6</tspan></text>
<line x1="331.4" y1="397.1" x2="333.4" y2="397.1" stroke="#6e6e6e" stroke-width="0.9"/>
<line x1="331.4" y1="366.7" x2="333.4" y2="366.7" stroke="#6e6e6e" stroke-width="0.9"/>
<line x1="331.4" y1="336.4" x2="333.4" y2="336.4" stroke="#6e6e6e" stroke-width="0.9"/>
<line x1="331.4" y1="306" x2="333.4" y2="306" stroke="#6e6e6e" stroke-width="0.9"/>
<line x1="331.4" y1="275.6" x2="333.4" y2="275.6" stroke="#6e6e6e" stroke-width="0.9"/>
<line x1="333.4" y1="412.3" x2="333.4" y2="415.8" stroke="#6e6e6e" stroke-width="1"/>
<text x="333.4" y="421.5" text-anchor="middle" font-size="6.7" fill="#333" stroke="#333" stroke-width="0.15">400</text>
<line x1="371" y1="412.3" x2="371" y2="415.8" stroke="#6e6e6e" stroke-width="1"/>
<text x="371" y="421.5" text-anchor="middle" font-size="6.7" fill="#333" stroke="#333" stroke-width="0.15">500</text>
<line x1="408.6" y1="412.3" x2="408.6" y2="415.8" stroke="#6e6e6e" stroke-width="1"/>
<text x="408.6" y="421.5" text-anchor="middle" font-size="6.7" fill="#333" stroke="#333" stroke-width="0.15">600</text>
<line x1="446.2" y1="412.3" x2="446.2" y2="415.8" stroke="#6e6e6e" stroke-width="1"/>
<text x="446.2" y="421.5" text-anchor="middle" font-size="6.7" fill="#333" stroke="#333" stroke-width="0.15">700</text>
<line x1="483.8" y1="412.3" x2="483.8" y2="415.8" stroke="#6e6e6e" stroke-width="1"/>
<text x="483.8" y="421.5" text-anchor="middle" font-size="6.7" fill="#333" stroke="#333" stroke-width="0.15">800</text>
<line x1="521.4" y1="412.3" x2="521.4" y2="415.8" stroke="#6e6e6e" stroke-width="1"/>
<text x="521.4" y="421.5" text-anchor="middle" font-size="6.7" fill="#333" stroke="#333" stroke-width="0.15">900</text>
<line x1="352.2" y1="412.3" x2="352.2" y2="414.3" stroke="#6e6e6e" stroke-width="0.9"/>
<line x1="389.8" y1="412.3" x2="389.8" y2="414.3" stroke="#6e6e6e" stroke-width="0.9"/>
<line x1="427.4" y1="412.3" x2="427.4" y2="414.3" stroke="#6e6e6e" stroke-width="0.9"/>
<line x1="465" y1="412.3" x2="465" y2="414.3" stroke="#6e6e6e" stroke-width="0.9"/>
<line x1="502.6" y1="412.3" x2="502.6" y2="414.3" stroke="#6e6e6e" stroke-width="0.9"/>
<text x="428.2" y="435" text-anchor="middle" font-size="8" font-weight="bold" fill="#1a1a1a">Wavelength (nm)</text>
<text transform="translate(302.2,336.2) rotate(-90)" text-anchor="middle" font-size="8.1" font-weight="bold" fill="#1a1a1a">Intensity (CPS)</text>
<path d="M376.7,408.4C378.92,408 386.12,406.9 390,406C393.88,405.1 397,403.67 400,403C403,402.33 405,401.67 408,402C411,402.33 414.33,403.83 418,405C421.67,406.17 425.5,408.08 430,409C434.5,409.92 442.5,410.25 445,410.5" fill="none" stroke="#209080" stroke-width="1.25" stroke-linejoin="round"/>
<path d="M370,408.4C371.4,407.72 374.5,405.53 378.4,404.3C382.3,403.07 389.47,401.88 393.4,401C397.33,400.12 399.57,399.25 402,399C404.43,398.75 405,398.5 408,399.5C411,400.5 415.5,403.33 420,405C424.5,406.67 432.5,408.75 435,409.5" fill="none" stroke="#60a0c8" stroke-width="1.25" stroke-linejoin="round"/>
<path d="M360,410C362,409 367.83,405.58 372,404C376.17,402.42 380.67,401.42 385,400.5C389.33,399.58 394.67,399 398,398.5C401.33,398 402.17,396.92 405,397.5C407.83,398.08 410.83,400.17 415,402C419.17,403.83 427.5,407.42 430,408.5" fill="none" stroke="#4080c0" stroke-width="1.25" stroke-linejoin="round"/>
<path d="M352,411.5C353.33,411 356.17,409.92 360,408.5C363.83,407.08 370,404.42 375,403C380,401.58 385,401 390,400C395,399 400.83,396.83 405,397C409.17,397.17 410.83,399.25 415,401C419.17,402.75 427.5,406.42 430,407.5" fill="none" stroke="#a0a0e0" stroke-width="1.25" stroke-linejoin="round"/>
<path d="M356,411.8C357,411.33 360.17,410.13 362,409C363.83,407.87 365.17,406.5 367,405C368.83,403.5 371.17,401.28 373,400C374.83,398.72 376.27,397.97 378,397.3C379.73,396.63 380.57,396.3 383.4,396C386.23,395.7 391.4,395.78 395,395.5C398.6,395.22 402,393.88 405,394.3C408,394.72 410.17,396.3 413,398C415.83,399.7 418.33,402.58 422,404.5C425.67,406.42 432.83,408.67 435,409.5" fill="none" stroke="#9cb43c" stroke-width="1.25" stroke-linejoin="round"/>
<path d="M385,411C386.33,410.42 391.03,408.62 393,407.5C394.97,406.38 395.07,406.08 396.8,404.3C398.53,402.52 401.87,398.35 403.4,396.8C404.93,395.25 404.73,394.88 406,395C407.27,395.12 408.67,396 411,397.5C413.33,399 416.5,402 420,404C423.5,406 430,408.58 432,409.5" fill="none" stroke="#a8a030" stroke-width="1.25" stroke-linejoin="round"/>
<path d="M378,410C380,409 386.33,406 390,404C393.67,402 397.33,399.42 400,398C402.67,396.58 403.67,395.25 406,395.5C408.33,395.75 410.83,397.75 414,399.5C417.17,401.25 421,404.17 425,406C429,407.83 435.83,409.75 438,410.5" fill="none" stroke="#c0a050" stroke-width="1.25" stroke-linejoin="round"/>
<path d="M390,410C391.33,409.33 395.67,407.33 398,406C400.33,404.67 402,402.42 404,402C406,401.58 407.33,402.58 410,403.5C412.67,404.42 415,406.33 420,407.5C425,408.67 436.67,410 440,410.5" fill="none" stroke="#804060" stroke-width="1.25" stroke-linejoin="round"/>
<path d="M362.6,382.6C363.33,383 365.2,384.03 367,385C368.8,385.97 371.23,387.2 373.4,388.4C375.57,389.6 378.07,391.1 380,392.2C381.93,393.3 382.83,394.28 385,395C387.17,395.72 390.2,396.07 393,396.5C395.8,396.93 398.97,397.02 401.8,397.6C404.63,398.18 406.97,398.6 410,400C413.03,401.4 415.83,404.33 420,406C424.17,407.67 432.5,409.33 435,410" fill="none" stroke="#3050c0" stroke-width="1.25" stroke-linejoin="round"/>
<path d="M395,411C396.17,409.67 400.17,405.25 402,403C403.83,400.75 404.67,397.83 406,397.5C407.33,397.17 408,399.42 410,401C412,402.58 414.67,405.42 418,407C421.33,408.58 428,409.92 430,410.5" fill="none" stroke="#a0a0e0" stroke-width="1.25" stroke-linejoin="round"/>
<path d="M455,411C457.5,410.83 466.17,410.5 470,410C473.83,409.5 475.67,408.67 478,408C480.33,407.33 482,406.42 484,406C486,405.58 488,405.25 490,405.5C492,405.75 493.83,406.67 496,407.5C498.17,408.33 501.83,410 503,410.5" fill="none" stroke="#6060d0" stroke-width="1.25" stroke-linejoin="round"/>
<path d="M465,411C467,410.67 473.83,410.17 477,409C480.17,407.83 481.92,405.08 484,404C486.08,402.92 487.67,402.25 489.5,402.5C491.33,402.75 492.92,404.25 495,405.5C497.08,406.75 500.83,409.25 502,410" fill="none" stroke="#a080e0" stroke-width="1.25" stroke-linejoin="round"/>
<path d="M470,411C471.67,410.75 476.75,410 480,409.5C483.25,409 486.5,407.92 489.5,408C492.5,408.08 495.42,409.42 498,410C500.58,410.58 503.83,411.25 505,411.5" fill="none" stroke="#309080" stroke-width="1.25" stroke-linejoin="round"/>
<path d="M478,409C478.5,408.33 479.83,407 481,405C482.17,403 484.23,397.5 485,397C485.77,396.5 485.27,400 485.6,402C485.93,404 486.77,407.83 487,409" fill="none" stroke="#707070" stroke-width="1.25" stroke-linejoin="round"/>
<path d="M478,410.5C478.83,409.75 481.5,407.45 483,406C484.5,404.55 485.85,402.67 487,401.8C488.15,400.93 488.9,400.72 489.9,400.8C490.9,400.88 491.65,401.27 493,402.3C494.35,403.33 496.5,405.62 498,407C499.5,408.38 501.33,410 502,410.6" fill="none" stroke="#a88a40" stroke-width="1.25" stroke-linejoin="round"/>
<path d="M473,410C474.17,409.5 478.17,407.67 480,407C481.83,406.33 482.5,406.33 484,406C485.5,405.67 487.17,404.83 489,405C490.83,405.17 493.17,406.17 495,407C496.83,407.83 499.17,409.5 500,410" fill="none" stroke="#4040c0" stroke-width="1.25" stroke-linejoin="round"/>
<path d="M400,410.5C405,410.63 418.33,411.22 430,411.3C441.67,411.38 461.67,411.22 470,411C478.33,410.78 477,410.25 480,410C483,409.75 485.33,409.42 488,409.5C490.67,409.58 490.67,410.17 496,410.5C501.33,410.83 516,411.33 520,411.5" fill="none" stroke="#505050" stroke-width="1.25" stroke-linejoin="round"/>
<path d="M347.5,363.4C347.67,361.5 348.18,355.4 348.5,352C348.82,348.6 348.98,346.5 349.4,343C349.82,339.5 350.17,334.33 351,331C351.83,327.67 352.9,323 354.4,323C355.9,323 358.23,328.58 360,331C361.77,333.42 363.67,335.5 365,337.5C366.33,339.5 366.6,338.97 368,343C369.4,347.03 371.1,355.53 373.4,361.7C375.7,367.87 378.73,374.72 381.8,380C384.87,385.28 388.77,390.23 391.8,393.4C394.83,396.57 396.97,397.4 400,399C403.03,400.6 406.67,401.67 410,403C413.33,404.33 415.83,405.83 420,407C424.17,408.17 428.33,409.3 435,410C441.67,410.7 455.83,411 460,411.2" fill="none" stroke="#c87050" stroke-width="1.25" stroke-linejoin="round"/>
<path d="M336.7,400C337.12,396.95 338.5,388.92 339.2,381.7C339.9,374.48 340.43,363.15 340.9,356.7C341.37,350.25 341.65,349.28 342,343C342.35,336.72 342.33,327 343,319C343.67,311 344.75,302.33 346,295C347.25,287.67 349,279.45 350.5,275C352,270.55 353.42,266.97 355,268.3C356.58,269.63 358.5,278.88 360,283C361.5,287.12 362.5,287.67 364,293C365.5,298.33 367.17,306.67 369,315C370.83,323.33 373.17,336.05 375,343C376.83,349.95 378.03,351.08 380,356.7C381.97,362.32 384,370.58 386.8,376.7C389.6,382.82 393.77,389.85 396.8,393.4C399.83,396.95 401.97,396.23 405,398C408.03,399.77 411.67,402.33 415,404C418.33,405.67 420.83,406.92 425,408C429.17,409.08 432.5,409.95 440,410.5C447.5,411.05 465,411.17 470,411.3" fill="none" stroke="#484848" stroke-width="1.25" stroke-linejoin="round"/>
<line x1="354.6" y1="247.7" x2="354.6" y2="404" stroke="#4a5898" stroke-width="0.95" stroke-dasharray="2,1.75"/>
<line x1="408.1" y1="376" x2="408.1" y2="412.3" stroke="#4a5898" stroke-width="0.95" stroke-dasharray="2,1.75"/>
<line x1="489.7" y1="389.5" x2="489.7" y2="400" stroke="#4a5898" stroke-width="0.95" stroke-dasharray="2,1.75"/>
<text x="358.4" y="252" font-size="7.5" fill="#222" stroke="#222" stroke-width="0.2">450 nm</text>
<text x="412.4" y="383.4" font-size="7.4" fill="#222" stroke="#222" stroke-width="0.2">599 nm</text>
<text x="494.5" y="395" font-size="7.5" fill="#222" stroke="#222" stroke-width="0.2">815 nm</text>
<rect x="489.8" y="264.4" width="32.9" height="116.4" fill="#fff" stroke="#c4c4c4" stroke-width="0.7"/>
<line x1="490.7" y1="268" x2="503" y2="268" stroke="#404040" stroke-width="1.4"/>
<text x="504" y="269.9" font-size="5.4" fill="#555">360</text>
<line x1="490.7" y1="274.45" x2="503" y2="274.45" stroke="#c87050" stroke-width="1.4"/>
<text x="504" y="276.35" font-size="5.4" fill="#555">380</text>
<line x1="490.7" y1="280.9" x2="503" y2="280.9" stroke="#3050c0" stroke-width="1.4"/>
<text x="504" y="282.8" font-size="5.4" fill="#555">400</text>
<line x1="490.7" y1="287.35" x2="503" y2="287.35" stroke="#208080" stroke-width="1.4"/>
<text x="504" y="289.25" font-size="5.4" fill="#555">420</text>
<line x1="490.7" y1="293.8" x2="503" y2="293.8" stroke="#a0a0e0" stroke-width="1.4"/>
<text x="504" y="295.7" font-size="5.4" fill="#555">440</text>
<line x1="490.7" y1="300.25" x2="503" y2="300.25" stroke="#c0c040" stroke-width="1.4"/>
<text x="504" y="302.15" font-size="5.4" fill="#555">460</text>
<line x1="490.7" y1="306.7" x2="503" y2="306.7" stroke="#4080c0" stroke-width="1.4"/>
<text x="504" y="308.6" font-size="5.4" fill="#555">480</text>
<line x1="490.7" y1="313.15" x2="503" y2="313.15" stroke="#704050" stroke-width="1.4"/>
<text x="504" y="315.05" font-size="5.4" fill="#555">500</text>
<line x1="490.7" y1="319.6" x2="503" y2="319.6" stroke="#c0a060" stroke-width="1.4"/>
<text x="504" y="321.5" font-size="5.4" fill="#555">520</text>
<line x1="490.7" y1="326.05" x2="503" y2="326.05" stroke="#c09060" stroke-width="1.4"/>
<text x="504" y="327.95" font-size="5.4" fill="#555">540</text>
<line x1="490.7" y1="332.5" x2="503" y2="332.5" stroke="#80a0e0" stroke-width="1.4"/>
<text x="504" y="334.4" font-size="5.4" fill="#555">560</text>
<line x1="490.7" y1="338.95" x2="503" y2="338.95" stroke="#90b040" stroke-width="1.4"/>
<text x="504" y="340.85" font-size="5.4" fill="#555">580</text>
<line x1="490.7" y1="345.4" x2="503" y2="345.4" stroke="#603030" stroke-width="1.4"/>
<text x="504" y="347.3" font-size="5.4" fill="#555">600</text>
<line x1="490.7" y1="351.85" x2="503" y2="351.85" stroke="#a08040" stroke-width="1.4"/>
<text x="504" y="353.75" font-size="5.4" fill="#555">620</text>
<line x1="490.7" y1="358.3" x2="503" y2="358.3" stroke="#4040c0" stroke-width="1.4"/>
<text x="504" y="360.2" font-size="5.4" fill="#555">640</text>
<line x1="490.7" y1="364.75" x2="503" y2="364.75" stroke="#309080" stroke-width="1.4"/>
<text x="504" y="366.65" font-size="5.4" fill="#555">660</text>
<line x1="490.7" y1="371.2" x2="503" y2="371.2" stroke="#a080e0" stroke-width="1.4"/>
<text x="504" y="373.1" font-size="5.4" fill="#555">680</text>
<line x1="490.7" y1="377.65" x2="503" y2="377.65" stroke="#b0a020" stroke-width="1.4"/>
<text x="504" y="379.55" font-size="5.4" fill="#555">700 nm</text>
</svg>
</body></html>
